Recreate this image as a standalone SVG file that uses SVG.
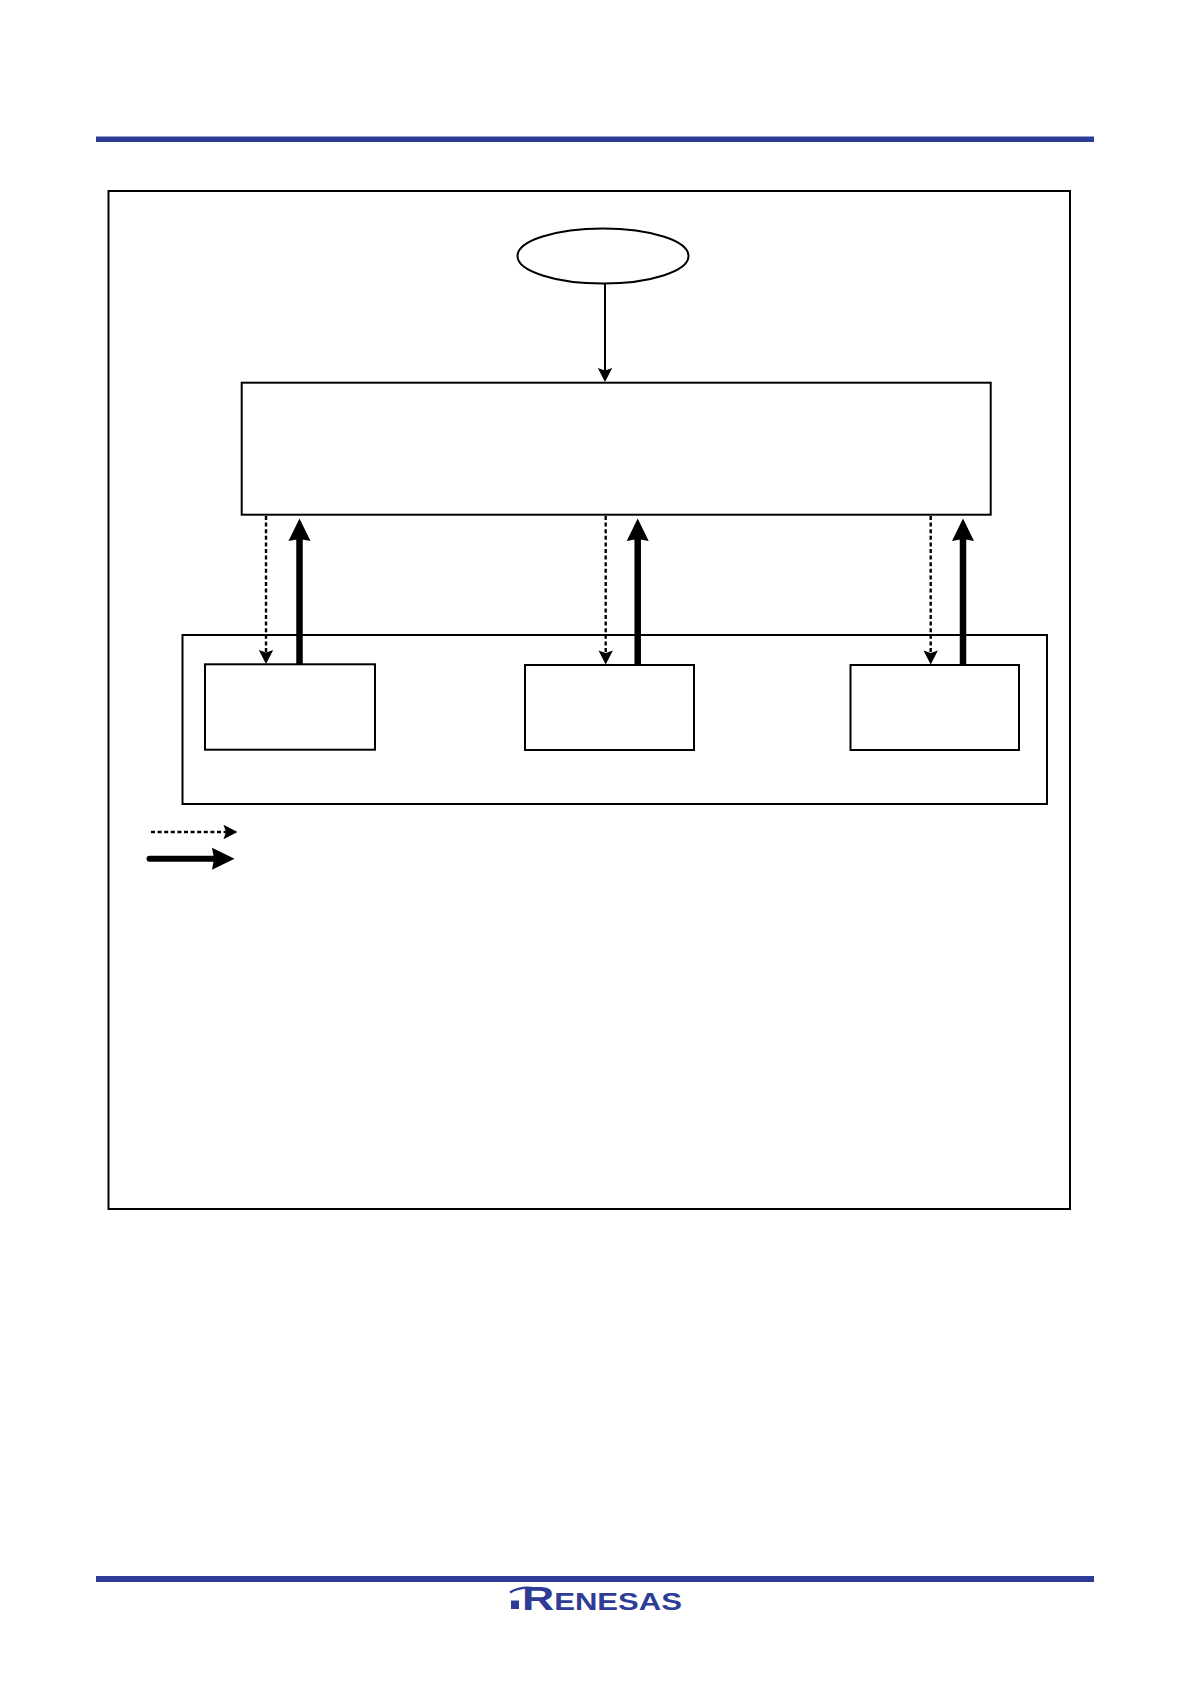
<svg xmlns="http://www.w3.org/2000/svg" width="1190" height="1684" viewBox="0 0 1190 1684">
<style>
.box{fill:#fff;stroke:#000;stroke-width:2}
.bar{fill:#2f3c96}
.thin{fill:none;stroke:#000;stroke-width:2}
.dash{fill:none;stroke:#000;stroke-width:2.4;stroke-dasharray:4 2.6}
.thick{fill:none;stroke:#000;stroke-width:6.5}
.logo{font-family:"Liberation Sans",Arial,sans-serif;font-weight:700;fill:#2f3c96}
</style>
<defs>
<polygon id="headS" points="0,0 -7.2,-14 0,-11.5 7.2,-14" fill="#000"/>
<polygon id="headL" points="0,0 -11,-22.5 0,-20.5 11,-22.5" fill="#000"/>
</defs>
<rect id="top-bar" class="bar" x="96" y="136.5" width="998" height="5.5"/>
<rect id="bottom-bar" class="bar" x="96" y="1576" width="998" height="6"/>
<g id="frame"><rect class="box" x="108.5" y="191" width="961.5" height="1018"/></g>
<g id="group-outer"><rect class="box" x="182.5" y="635" width="864.5" height="169"/></g>
<g id="start-ellipse"><ellipse class="box" cx="603" cy="256" rx="85.5" ry="27.5"/></g>
<g id="main-box"><rect class="box" x="241.7" y="382.7" width="749" height="132"/></g>
<g id="box-1"><rect class="box" x="205" y="664.3" width="170" height="85.4"/></g>
<g id="box-2"><rect class="box" x="525" y="665" width="169" height="85"/></g>
<g id="box-3"><rect class="box" x="850.5" y="665" width="168.5" height="85"/></g>
<g id="connectors">
<line class="thin" x1="605" y1="283.5" x2="605" y2="372"/><use href="#headS" x="605" y="382"/>
<line class="dash" x1="266" y1="516" x2="266" y2="654"/><use href="#headS" x="266" y="664"/>
<line class="thick" x1="299.5" y1="664" x2="299.5" y2="538"/><use href="#headL" transform="translate(299.5 518.5) rotate(180)"/>
<line class="dash" x1="605.7" y1="516" x2="605.7" y2="654"/><use href="#headS" x="605.7" y="664.5"/>
<line class="thick" x1="637.7" y1="664" x2="637.7" y2="538"/><use href="#headL" transform="translate(637.7 518.5) rotate(180)"/>
<line class="dash" x1="930.7" y1="516" x2="930.7" y2="654"/><use href="#headS" x="930.7" y="664.5"/>
<line class="thick" x1="963" y1="664" x2="963" y2="538"/><use href="#headL" transform="translate(963 518.5) rotate(180)"/>
<line class="dash" x1="151" y1="832" x2="227" y2="832"/><use href="#headS" transform="translate(237.5 832) rotate(-90)"/>
<line x1="149.5" y1="858.7" x2="216" y2="858.7" stroke="#000" stroke-width="6" stroke-linecap="round"/><use href="#headL" transform="translate(234.5 858.7) rotate(-90)"/>
</g>
<g id="logo">
<rect class="bar" x="511" y="1600.5" width="8" height="8.5"/>
<path d="M510 1592.5Q520 1586.5 533 1588" fill="none" stroke="#2f3c96" stroke-width="2.2"/>
<text class="logo" x="522" y="1609.5" font-size="23" textLength="160" lengthAdjust="spacingAndGlyphs"><tspan font-size="33">R</tspan>ENESAS</text>
</g>
</svg>
